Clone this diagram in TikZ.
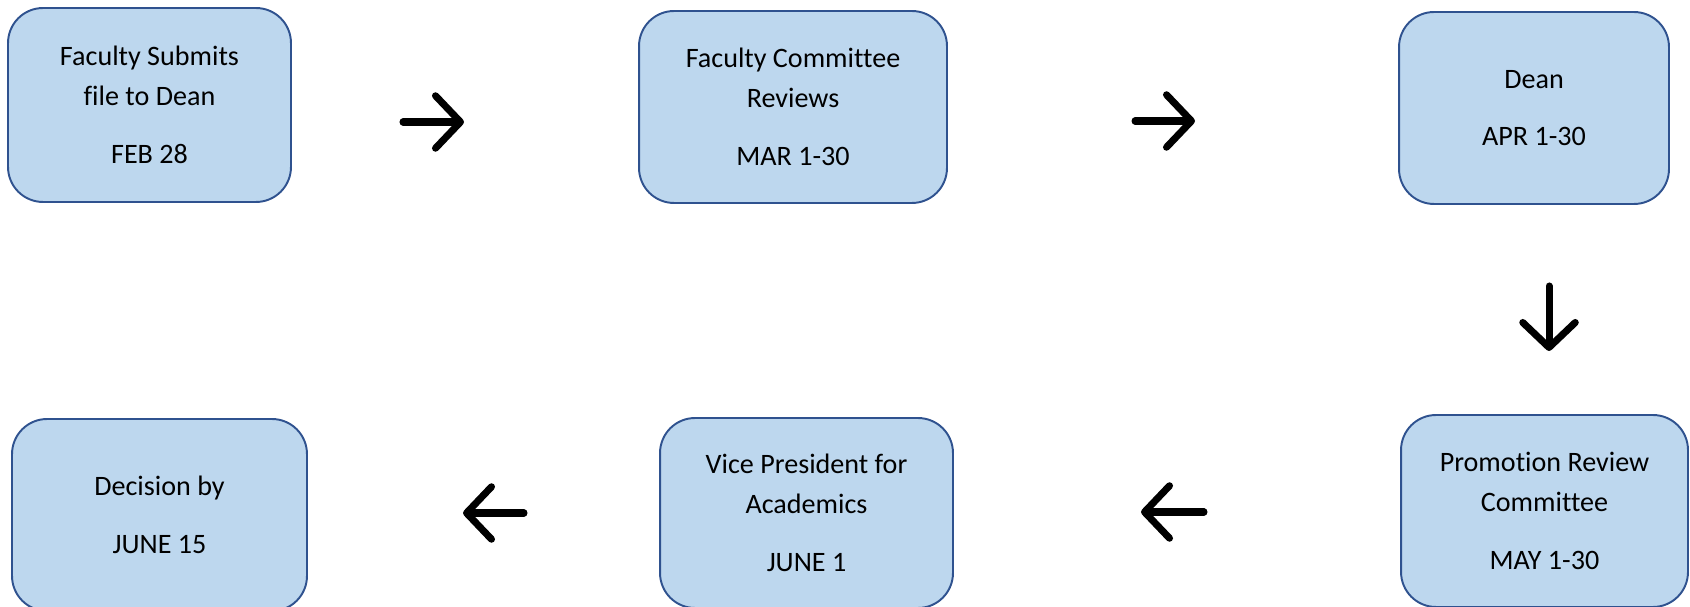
\documentclass[tikz,border=0pt]{standalone}
\usepackage{fontspec}
\setmainfont{Carlito}[Ligatures=NoCommon]
\usetikzlibrary{arrows.meta}
\definecolor{boxfill}{HTML}{BDD7EE}
\definecolor{boxline}{HTML}{2F528F}

\begin{document}
\begin{tikzpicture}
		[x=0.02cm, y=-0.02cm,
		stage/.style={rectangle,rounded corners=0.7cm,draw=boxline,fill=boxfill,line width=1.1pt,
			align=center,inner sep=0pt,font=\fontsize{16}{22.8}\selectfont},
		flow/.style={line width=4pt,line cap=round,
			-{Straight Barb[length=0.5cm,width=1.05cm,line cap=round,line join=round]}}]
		\useasboundingbox (0,0) rectangle (1690,607);
		\node (submit) [stage,minimum width=5.66cm,minimum height=3.88cm] at (149.5,105)
			{Faculty Submits\\file to Dean\\[10pt]FEB 28};
		\node (fac) [stage,minimum width=6.16cm,minimum height=3.84cm] at (793,107)
			{Faculty Committee\\Reviews\\[10pt]MAR 1-30};
		\node (dean) [stage,minimum width=5.4cm,minimum height=3.84cm] at (1534,108)
			{Dean\\[10pt]APR 1-30};
		\node (prc) [stage,minimum width=5.74cm,minimum height=3.84cm] at (1544.5,511)
			{Promotion Review\\Committee\\[10pt]MAY 1-30};
		\node (vp) [stage,minimum width=5.86cm,minimum height=3.8cm] at (806.5,513)
			{Vice President for\\Academics\\[10pt]JUNE 1};
		\node (decide) [stage,minimum width=5.9cm,minimum height=3.84cm] at (159.5,515)
			{Decision by\\[10pt]JUNE 15};
		% free-standing arrows between the boxes
		\coordinate (a1) at (403,122);  \coordinate (b1) at (464,122);
		\coordinate (a2) at (1135,121); \coordinate (b2) at (1195,121);
		\coordinate (a3) at (1549,286); \coordinate (b3) at (1549,351);
		\coordinate (a4) at (1204,512); \coordinate (b4) at (1141,512);
		\coordinate (a5) at (524,513);  \coordinate (b5) at (463,513);
		\draw [flow] (a1) -- (b1);
		\draw [flow] (a2) -- (b2);
		\draw [flow] (a3) -- (b3);
		\draw [flow] (a4) -- (b4);
		\draw [flow] (a5) -- (b5);
	\end{tikzpicture}
\end{document}
